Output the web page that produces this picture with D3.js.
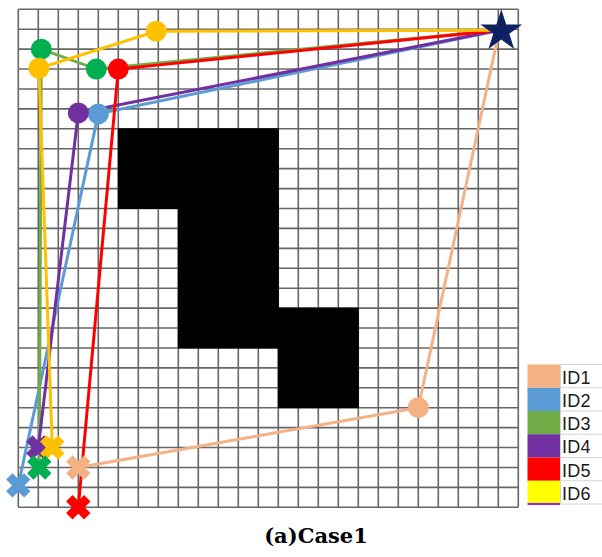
<!DOCTYPE html>
<html>
<head>
<meta charset="utf-8">
<script src="https://cdn.jsdelivr.net/npm/d3@7"></script>
<style>
  body { margin: 0; background: #fff; }
  svg { display: block; }
</style>
</head>
<body>
<svg id="chart" width="602" height="557"></svg>
<script>
/* ======================== DATA ========================= */
const ids = ["ID1", "ID2", "ID3", "ID4", "ID5", "ID6"];

// start points (X markers), in grid units
const startPts = [[3, 23], [0, 23.9], [1.05, 23], [1, 22], [3, 25], [1.7, 22]];

// intermediate points (circles) for each id, in order from start to goal
const wayPts = [
    [[20, 20]],
    [[4, 5.25]],
    [[1.15, 2], [3.9, 3]],
    [[3, 5.2]],
    [[5, 3]],
    [[1.03, 2.96], [6.9, 1.1]]
];

const goal = [24.05, 1.05];

// black blocks: [x0, y0, x1, y1]
const blocks = [[5, 6, 13, 10], [8, 10, 13, 17], [13, 15, 17, 20]];

const gridSize = 25;

/* ======================= STYLES ======================== */
const lineColor   = ["#F4B183", "#5B9BD5", "#70AD47", "#7030A0", "#FF0000", "#FFC000"];
const markColor   = ["#F4B183", "#5B9BD5", "#00B050", "#7030A0", "#FF0000", "#FFC000"];
const legendColor = ["#F4B183", "#5B9BD5", "#70AD47", "#7030A0", "#FF0000", "#FFFF00"];

const svg = d3.select("#chart");

const x = d3.scaleLinear().domain([0, gridSize]).range([18.3, 518.3]);
const y = d3.scaleLinear().domain([0, gridSize]).range([9.3, 507.3]);

/* ======================== GRID ========================= */
let gridG = svg.append("g").attr("id", "grid");

gridG.selectAll("line.v")
     .data(d3.range(0, gridSize + 1))
     .join("line")
     .attr("class", "v")
     .attr("x1", d => x(d)).attr("x2", d => x(d))
     .attr("y1", y(0)).attr("y2", y(gridSize))
     .attr("stroke", "#666")
     .attr("stroke-width", 1.6);

gridG.selectAll("line.h")
     .data(d3.range(0, gridSize + 1))
     .join("line")
     .attr("class", "h")
     .attr("y1", d => y(d)).attr("y2", d => y(d))
     .attr("x1", x(0)).attr("x2", x(gridSize))
     .attr("stroke", "#666")
     .attr("stroke-width", 1.6);

svg.append("g").attr("id", "blocks")
   .selectAll("rect")
   .data(blocks)
   .join("rect")
   .attr("x", d => x(d[0]))
   .attr("y", d => y(d[1]))
   .attr("width", d => x(d[2]) - x(d[0]))
   .attr("height", d => y(d[3]) - y(d[1]))
   .attr("fill", "#000")
   .attr("stroke", "#000")
   .attr("stroke-width", 1);

/* ======================== PATHS ======================== */
const paths = ids.map((id, i) => [startPts[i], ...wayPts[i], goal]);

const line = d3.line().x(d => x(d[0])).y(d => y(d[1]));

svg.append("g").attr("id", "paths")
   .selectAll("path")
   .data(paths)
   .join("path")
   .attr("d", line)
   .attr("fill", "none")
   .attr("stroke", (d, i) => lineColor[i])
   .attr("stroke-width", 3);

/* ======================= MARKERS ======================= */
let markG = svg.append("g").attr("id", "markers");

ids.forEach((id, i) => {
    markG.selectAll("circle.m" + i)
         .data(wayPts[i])
         .join("circle")
         .attr("class", "m" + i)
         .attr("cx", d => x(d[0]))
         .attr("cy", d => y(d[1]))
         .attr("r", 10.5)
         .attr("fill", markColor[i]);
});

// thick X for the start points
const crossPath = "M-9,-9L9,9M-9,9L9,-9";
[3, 5, 0, 1, 2, 4].forEach(i => {
    markG.append("path")
         .attr("d", crossPath)
         .attr("transform", `translate(${x(startPts[i][0])},${y(startPts[i][1])})`)
         .attr("fill", "none")
         .attr("stroke", markColor[i])
         .attr("stroke-width", 9);
});

markG.append("path")
     .attr("d", d3.symbol().type(d3.symbolStar).size(540)())
     .attr("transform", `translate(${x(goal[0]) + 2},${y(goal[1]) + 1})`)
     .attr("fill", "#0E2162");

/* ======================= LEGEND ======================== */
const legTop = 364.5, rowH = 23.25;
let legG = svg.append("g").attr("id", "legend");

legG.selectAll("rect")
    .data(ids)
    .join("rect")
    .attr("x", 527.5)
    .attr("y", (d, i) => legTop + i * rowH)
    .attr("width", 32.5)
    .attr("height", rowH)
    .attr("fill", (d, i) => legendColor[i]);

legG.selectAll("line.row")
    .data(d3.range(0, ids.length + 1))
    .join("line")
    .attr("class", "row")
    .attr("x1", 560).attr("x2", 602)
    .attr("y1", d => legTop + d * rowH).attr("y2", d => legTop + d * rowH)
    .attr("stroke", "#d4d4d4")
    .attr("stroke-width", 1);

legG.append("line")
    .attr("x1", 560.5).attr("x2", 560.5)
    .attr("y1", legTop).attr("y2", legTop + ids.length * rowH)
    .attr("stroke", "#d4d4d4");

legG.append("line")
    .attr("x1", 527.5).attr("x2", 560)
    .attr("y1", legTop + ids.length * rowH).attr("y2", legTop + ids.length * rowH)
    .attr("stroke", "#a020f0")
    .attr("stroke-width", 2);

legG.selectAll("text")
    .data(ids)
    .join("text")
    .attr("x", 562)
    .attr("y", (d, i) => legTop + i * rowH + 19)
    .attr("font-family", "Liberation Sans, sans-serif")
    .attr("font-size", 18)
    .attr("letter-spacing", 0.3)
    .attr("fill", "#1a1a1a")
    .text(d => d);

/* ======================== TITLE ======================== */
svg.append("text")
   .attr("x", 316)
   .attr("y", 543)
   .attr("text-anchor", "middle")
   .attr("font-family", "DejaVu Serif, serif")
   .attr("font-weight", "bold")
   .attr("font-size", 21)
   .attr("fill", "#000")
   .text("(a)Case1");
</script>
</body>
</html>
